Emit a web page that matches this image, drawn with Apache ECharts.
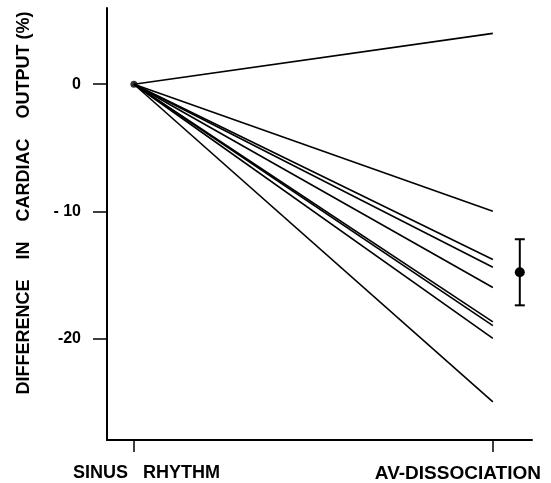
<!DOCTYPE html>
<html>
<head>
<meta charset="utf-8">
<script src="https://cdn.jsdelivr.net/npm/echarts@6/dist/echarts.min.js"></script>
<style>
  html, body { margin: 0; padding: 0; background: #fff; }
  #chart { width: 551px; height: 483px; }
</style>
</head>
<body>
<div id="chart"></div>
<script>
// x positions of the two conditions
const conditions = ['SINUS   RHYTHM', 'AV-DISSOCIATION']
const conditionX = [0, 1]

// % change in cardiac output for each subject (sinus rhythm is the reference, 0)
const sinusValues = [0, 0, 0, 0, 0, 0, 0, 0, 0]
const avValues = [4, -10, -13.8, -14.4, -16, -18.7, -19, -20, -25]

// mean and spread drawn to the right of the AV column
const meanValue = -14.8
const meanUpper = -12.2
const meanLower = -17.4
const meanX = 1.075

const yTicks = [0, -10, -20]
const yTickLabels = { '0': '0', '-10': '- 10', '-20': '-20' }

const font = 'Liberation Sans'
const chart = echarts.init(document.getElementById('chart'))

const lineSeries = avValues.map((v, i) => ({
  type: 'line',
  data: [[conditionX[0], sinusValues[i]], [conditionX[1], v]],
  showSymbol: false,
  silent: true,
  lineStyle: { color: '#000', width: 1.6 }
}))

chart.setOption({
  animation: false,
  grid: { left: 107, right: 19, top: 8, bottom: 42 },
  xAxis: {
    type: 'value',
    min: -0.075,
    max: 1.109,
    splitLine: { show: false },
    axisLine: { onZero: false, lineStyle: { color: '#000', width: 2 } },
    axisTick: { customValues: conditionX, length: 12, lineStyle: { color: '#000', width: 1.5 } },
    axisLabel: {
      customValues: conditionX,
      margin: 24,
      color: '#000',
      fontFamily: font,
      fontWeight: 'bold',
      fontSize: 18,
      formatter: v => (v === 0 ? '{a|' + conditions[0] + '}' : '{b|' + conditions[1] + '}'),
      rich: {
        a: { fontFamily: font, fontWeight: 'bold', fontSize: 18, color: '#000', padding: [0, 0, 0, 25] },
        b: { fontFamily: font, fontWeight: 'bold', fontSize: 19, color: '#000', padding: [0, 70, 0, 0] }
      }
    }
  },
  yAxis: {
    type: 'value',
    min: -28,
    max: 6,
    splitLine: { show: false },
    axisLine: { onZero: false, lineStyle: { color: '#000', width: 2 } },
    axisTick: { customValues: yTicks, length: 14, lineStyle: { color: '#000', width: 1.5 } },
    axisLabel: {
      customValues: yTicks,
      margin: 26,
      color: '#000',
      fontFamily: font,
      fontWeight: 'bold',
      fontSize: 16,
      formatter: v => yTickLabels[String(v)]
    }
  },
  graphic: [{
    type: 'text',
    x: 24,
    y: 203,
    rotation: Math.PI / 2,
    style: {
      text: 'DIFFERENCE    IN    CARDIAC    OUTPUT (%)',
      fontFamily: font,
      fontWeight: 'bold',
      fontSize: 18,
      fill: '#000',
      align: 'center',
      verticalAlign: 'middle'
    }
  }],
  series: [
    ...lineSeries,
    {
      type: 'scatter',
      data: [[conditionX[0], 0]],
      symbolSize: 7,
      itemStyle: { color: '#000' },
      silent: true
    },
    {
      type: 'custom',
      data: [[meanX, meanValue, meanUpper, meanLower]],
      silent: true,
      renderItem(params, api) {
        const x = api.value(0)
        const mid = api.coord([x, api.value(1)])
        const top = api.coord([x, api.value(2)])
        const bot = api.coord([x, api.value(3)])
        const cap = 5
        const style = { stroke: '#000', lineWidth: 2 }
        return {
          type: 'group',
          children: [
            { type: 'line', shape: { x1: top[0], y1: top[1], x2: bot[0], y2: bot[1] }, style },
            { type: 'line', shape: { x1: top[0] - cap, y1: top[1], x2: top[0] + cap, y2: top[1] }, style },
            { type: 'line', shape: { x1: bot[0] - cap, y1: bot[1], x2: bot[0] + cap, y2: bot[1] }, style },
            { type: 'circle', shape: { cx: mid[0], cy: mid[1], r: 5 }, style: { fill: '#000' } }
          ]
        }
      }
    }
  ]
})
</script>
</body>
</html>
